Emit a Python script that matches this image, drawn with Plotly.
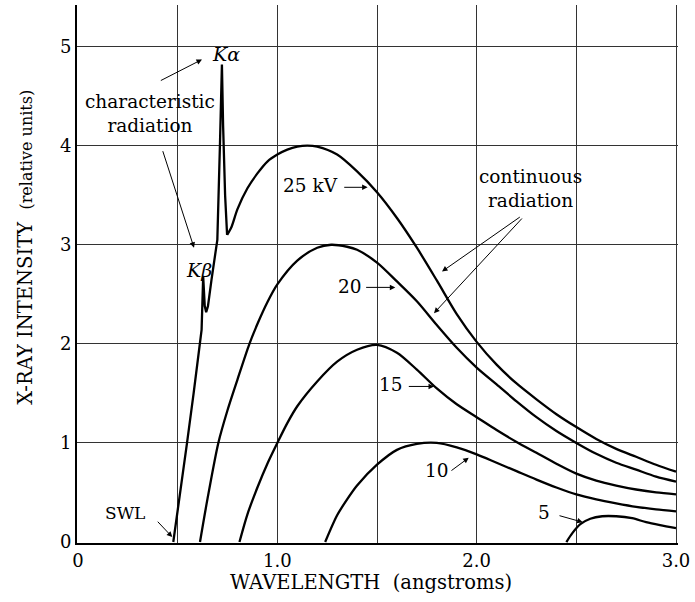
import plotly.graph_objects as go

# ---------------- data ----------------
x25 = [0.478, 0.510, 0.547, 0.580, 0.611, 0.620, 0.628, 0.632, 0.636, 0.643, 0.652, 0.670,
       0.699, 0.712, 0.722, 0.728, 0.738, 0.748, 0.770, 0.800, 0.850, 0.900, 0.950,
       1.000, 1.050, 1.100, 1.150, 1.200, 1.300, 1.400, 1.500, 1.600, 1.700, 1.800,
       1.900, 2.000, 2.100, 2.200, 2.300, 2.400, 2.500, 2.600, 2.700, 2.800, 2.900, 3.000]
y25 = [0.00, 0.45, 1.00, 1.50, 2.00, 2.14, 2.68, 2.55, 2.38, 2.32, 2.38, 2.65,
       3.05, 4.00, 4.82, 4.20, 3.50, 3.10, 3.18, 3.36, 3.57, 3.72, 3.84,
       3.91, 3.96, 3.99, 4.00, 3.99, 3.91, 3.74, 3.53, 3.27, 2.97, 2.64,
       2.30, 2.02, 1.79, 1.60, 1.44, 1.29, 1.16, 1.04, 0.94, 0.86, 0.78, 0.71]

x20 = [0.612, 0.650, 0.704, 0.750, 0.800, 0.860, 0.900, 0.950, 1.000, 1.100, 1.200, 1.270,
       1.350, 1.400, 1.500, 1.600, 1.700, 1.800, 1.900, 2.000, 2.100, 2.200, 2.300, 2.400,
       2.500, 2.600, 2.700, 2.800, 2.900, 3.000]
y20 = [0.00, 0.44, 1.00, 1.33, 1.64, 2.00, 2.20, 2.42, 2.60, 2.84, 2.97, 3.00,
       2.98, 2.95, 2.82, 2.63, 2.43, 2.19, 1.96, 1.76, 1.59, 1.42, 1.26, 1.12,
       1.00, 0.89, 0.80, 0.73, 0.66, 0.61]

x15 = [0.810, 0.850, 0.900, 0.950, 1.000, 1.050, 1.100, 1.200, 1.300, 1.400, 1.500,
       1.600, 1.700, 1.800, 1.900, 2.000, 2.100, 2.200, 2.300, 2.400, 2.500,
       2.600, 2.700, 2.800, 2.900, 3.000]
y15 = [0.00, 0.28, 0.55, 0.79, 1.00, 1.20, 1.37, 1.62, 1.82, 1.94, 1.99,
       1.91, 1.74, 1.55, 1.39, 1.26, 1.13, 1.01, 0.90, 0.79, 0.69,
       0.62, 0.57, 0.53, 0.50, 0.48]

x10 = [1.240, 1.300, 1.350, 1.400, 1.500, 1.600, 1.700, 1.800, 1.900, 2.000, 2.100, 2.200,
       2.300, 2.400, 2.500, 2.600, 2.700, 2.800, 2.900, 3.000]
y10 = [0.00, 0.27, 0.43, 0.57, 0.78, 0.93, 0.99, 1.00, 0.955, 0.885, 0.80, 0.715,
       0.63, 0.55, 0.48, 0.43, 0.39, 0.355, 0.33, 0.31]

x5 = [2.450, 2.480, 2.520, 2.570, 2.630, 2.700, 2.780, 2.850, 2.920, 3.000]
y5 = [0.00, 0.09, 0.18, 0.235, 0.26, 0.26, 0.24, 0.20, 0.17, 0.14]

x_tick_vals = [0, 0.5, 1.0, 1.5, 2.0, 2.5, 3.0]
x_tick_text = ["0", "", "1.0", "", "2.0", "", "3.0"]
y_tick_vals = [0, 1, 2, 3, 4, 5]
y_tick_text = ["0", "1", "2", "3", "4", "5"]

FONT = "DejaVu Serif"
LW = 2.3
SM = 0.8

fig = go.Figure()
# 25 kV: sharp characteristic lines drawn linearly, continuum smoothed
k = x25.index(0.748)
fig.add_trace(go.Scatter(x=x25[:k + 1], y=y25[:k + 1], mode="lines",
                         line=dict(color="black", width=LW),
                         showlegend=False, hoverinfo="skip"))
fig.add_trace(go.Scatter(x=x25[k:], y=y25[k:], mode="lines",
                         line=dict(color="black", width=LW, shape="spline", smoothing=SM),
                         showlegend=False, hoverinfo="skip"))
for xs, ys in [(x20, y20), (x15, y15), (x10, y10), (x5, y5)]:
    fig.add_trace(go.Scatter(x=xs, y=ys, mode="lines",
                             line=dict(color="black", width=LW, shape="spline", smoothing=SM),
                             showlegend=False, hoverinfo="skip"))

# text labels
texts = [
    ("<i>K</i><i>α</i>", 0.74, 4.93, 19),
    ("characteristic<br>radiation", 0.36, 4.33, 18.5),
    ("<i>K</i><i>β</i>", 0.607, 2.75, 19),
    ("25 kV", 1.164, 3.60, 18.5),
    ("20", 1.363, 2.58, 18.5),
    ("15", 1.572, 1.59, 18.5),
    ("10", 1.80, 0.72, 18.5),
    ("5", 2.338, 0.30, 18.5),
    ("SWL", 0.234, 0.29, 17),
    ("continuous<br>radiation", 2.27, 3.57, 18.5),
]
for t, x, y, s in texts:
    fig.add_annotation(x=x, y=y, xref="x", yref="y", text=t, showarrow=False,
                       font=dict(family=FONT, size=s, color="black"),
                       xanchor="center", yanchor="middle")

# arrows: (head_x, head_y, tail_x, tail_y)
arrows = [
    (0.622, 4.87, 0.408, 4.65),
    (0.582, 2.97, 0.423, 3.96),
    (1.453, 3.58, 1.328, 3.58),
    (1.592, 2.57, 1.438, 2.57),
    (1.786, 1.57, 1.652, 1.57),
    (1.960, 0.85, 1.866, 0.71),
    (2.532, 0.20, 2.408, 0.27),
    (0.473, 0.05, 0.393, 0.22),
    (1.826, 2.73, 2.224, 3.29),
    (1.786, 2.31, 2.234, 3.28),
]
for hx, hy, tx, ty in arrows:
    fig.add_annotation(x=hx, y=hy, ax=tx, ay=ty, xref="x", yref="y", axref="x", ayref="y",
                       text="", showarrow=True, arrowhead=2, arrowsize=1.1, arrowwidth=1,
                       arrowcolor="black", standoff=0, startstandoff=0)

# axis titles
fig.add_annotation(x=0.49, y=-0.0725, xref="paper", yref="paper",
                   text="WAVELENGTH  (angstroms)", showarrow=False,
                   font=dict(family=FONT, size=19.5, color="black"),
                   xanchor="center", yanchor="middle")
fig.add_annotation(x=-0.087, y=0.55, xref="paper", yref="paper",
                   text="X-RAY INTENSITY  <span style='font-size:16px'>(relative units)</span>",
                   showarrow=False, textangle=-90,
                   font=dict(family=FONT, size=19.5, color="black"),
                   xanchor="center", yanchor="middle")

fig.update_layout(
    width=695, height=602,
    margin=dict(l=77, r=12, t=5, b=59),
    paper_bgcolor="white", plot_bgcolor="white",
    font=dict(family=FONT, color="black"),
    hovermode=False,
    xaxis=dict(range=[-0.005, 3.01], tickvals=x_tick_vals, ticktext=x_tick_text,
               showgrid=True, gridcolor="#333333", gridwidth=1, zeroline=False,
               showline=True, linecolor="black", linewidth=2, ticks="",
               ticklabeloverflow="allow",
               tickfont=dict(family=FONT, size=18, color="black")),
    yaxis=dict(range=[-0.01, 5.42], tickvals=y_tick_vals, ticktext=y_tick_text,
               showgrid=True, gridcolor="#333333", gridwidth=1, zeroline=False,
               showline=True, linecolor="black", linewidth=2, ticks="",
               tickfont=dict(family=FONT, size=18, color="black")),
)

fig.write_html("out.html", config={"displayModeBar": False, "staticPlot": True},
               post_script="document.body.style.margin='0';document.body.style.overflow='hidden';")
